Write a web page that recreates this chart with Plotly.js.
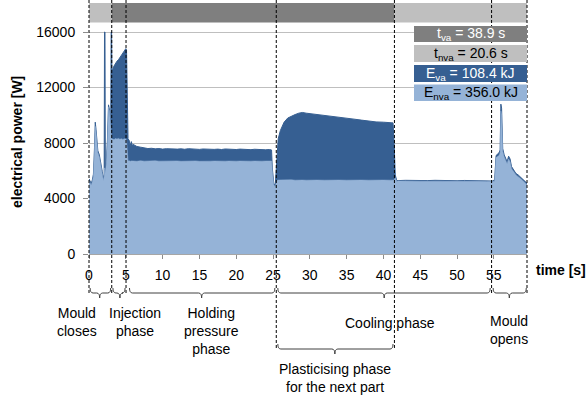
<!DOCTYPE html>
<html>
<head>
<meta charset="utf-8">
<script src="https://cdn.plot.ly/plotly-3.0.1.min.js"></script>
<style>html,body{margin:0;padding:0;background:#fff;}#chart{width:588px;height:396px;}</style>
</head>
<body>
<div id="chart"></div>
<script>
// ---- data ----
const TIME = [0.00,0.15,0.30,0.45,0.60,0.75,0.85,0.95,1.05,1.20,1.40,1.60,1.80,1.95,2.06,2.11,2.17,2.22,2.35,2.50,2.65,2.80,2.95,3.01,3.07,3.13,3.20,3.40,3.60,3.80,4.00,4.20,4.40,4.60,4.80,5.00,5.10,5.20,5.30,5.45,5.60,5.75,5.90,6.0,6.5,7.0,7.5,8.0,8.5,9.0,9.5,10.0,10.5,11.0,11.5,12.0,12.5,13.0,13.5,14.0,14.5,15.0,15.5,16.0,16.5,17.0,17.5,18.0,18.5,19.0,19.5,20.0,20.5,21.0,21.5,22.0,22.5,23.0,23.5,24.0,24.5,24.80,24.90,25.10,25.30,25.50,25.70,26.0,26.5,27.0,27.5,28.0,28.5,29.0,29.5,30.0,31.0,32.0,33.0,34.0,35.0,36.0,37.0,38.0,39.0,40.0,41.0,41.30,41.45,41.60,41.80,42.0,43.0,44.0,45.0,46.0,47.0,48.0,49.0,50.0,51.0,52.0,53.0,54.0,54.80,55.10,55.30,55.50,55.70,55.85,55.95,56.05,56.20,56.40,56.60,56.80,57.00,57.20,57.40,57.60,57.80,58.00,58.30,58.60,58.90,59.20,59.50];
const POWER_TOTAL = [5420,5220,5080,5330,5750,7700,9500,9000,8000,7450,7150,6650,5950,5450,5750,16000,16000,5950,6650,8150,10750,10350,9150,16000,16000,12000,13300,13550,13750,13900,14000,14150,14300,14450,14600,14800,14700,8450,8300,8200,7800,8100,7800,7900,7750,7700,7650,7600,7620,7580,7600,7560,7590,7570,7600,7560,7580,7550,7590,7560,7580,7540,7570,7550,7580,7540,7560,7530,7570,7540,7560,7530,7560,7540,7550,7520,7550,7520,7540,7510,7530,7500,6200,5100,4950,6500,8300,8900,9500,9800,9950,10050,10150,10200,10150,10120,10060,10000,9950,9860,9780,9720,9650,9560,9520,9500,9460,9450,8000,5700,5300,5290,5310,5290,5300,5290,5310,5290,5300,5280,5300,5280,5290,5270,5260,5350,7100,7200,7300,7500,10800,10500,7600,7150,6850,6650,7050,6850,6300,6100,5950,5800,5700,5550,5400,5250,5100];
const POWER_BASE = [5300,5100,4950,5200,5600,7500,9200,8800,7800,7300,7000,6500,5800,5300,5600,6200,6200,5800,6500,8000,10600,10200,9000,8300,8300,8300,8300,8250,8320,8280,8330,8270,8310,8260,8300,8280,8200,7000,6700,6720,6680,6710,6690,6700,6680,6720,6690,6710,6680,6720,6690,6700,6680,6720,6690,6710,6680,6700,6720,6690,6710,6680,6700,6720,6690,6700,6680,6710,6690,6700,6720,6690,6700,6680,6710,6690,6700,6720,6690,6700,6680,6700,6000,5000,4850,5300,5330,5340,5320,5330,5350,5320,5340,5330,5320,5340,5330,5320,5340,5330,5320,5340,5330,5320,5340,5330,5320,5330,5330,5500,5250,5260,5240,5260,5250,5240,5260,5250,5240,5250,5260,5240,5250,5230,5220,5250,6950,7000,7100,7300,10300,10000,7400,7000,6700,6500,6850,6650,6150,5950,5850,5700,5600,5450,5300,5150,5000];
const X_TICKS = [0,5,10,15,20,25,30,35,40,45,50,55];
const Y_TICKS = [0,4000,8000,12000,16000];
const T_END = 59.5;
const PHASE_BOUNDS = [0, 3.09, 5.03, 25.44, 41.49, 54.69, 59.5];
const PHASE_LINE_BOTTOM = [293, 293, 293, 349, 349, 293, 293];
const BAND = [[0, 3.09, 'nva'], [3.09, 41.49, 'va'], [41.49, 59.5, 'nva']];
const KPI_LABELS = ['t<sub>va</sub> = 38.9 s', 't<sub>nva</sub> = 20.6 s', 'E<sub>va</sub> = 108.4 kJ', 'E<sub>nva</sub> = 356.0 kJ'];
const PHASES = [
  {label: 'Mould<br>closes', x0: 0.15, x1: 2.95, xc: 1.45, row: 0},
  {label: 'Injection<br>phase', x0: 3.25, x1: 4.9, xc: 4.2, row: 0},
  {label: 'Holding<br>pressure<br>phase', x0: 5.5, x1: 25.25, xc: 15.3, row: 0},
  {label: 'Cooling phase', x0: 25.65, x1: 54.5, xc: 40.1, row: 0},
  {label: 'Mould<br>opens', x0: 54.9, x1: 59.4, xc: 57.1, row: 0},
  {label: 'Plasticising phase<br>for the next part', x0: 25.65, x1: 41.3, xc: 33.4, row: 1}
];

// ---- style / geometry ----
const DARK_BLUE = '#365F92', LIGHT_BLUE = '#95B3D7', DARK_GRAY = '#7F7F7F', LIGHT_GRAY = '#BFBFBF';
const FONT = 'Arial, "Liberation Sans", sans-serif';
const L = 89, R = 61, TOP = 22, B = 142, W = 588, H = 396;
const PW = W - L - R, PH = H - TOP - B;
const X = t => t / T_END;               // time -> paper x
const PX = px => (px - L) / PW;         // pixel x -> paper x
const PY = py => (H - B - py) / PH;     // pixel y -> paper y

const shapes = [];
const annotations = [];

// top band
BAND.forEach(b => shapes.push({type:'rect', xref:'paper', yref:'paper', x0:X(b[0]), x1:X(b[1]), y0:PY(22.5), y1:PY(3), fillcolor: b[2]==='va'?DARK_GRAY:LIGHT_GRAY, line:{width:0}, layer:'above'}));
// dashed phase lines
PHASE_BOUNDS.forEach((b,i) => shapes.push({type:'line', xref:'paper', yref:'paper', x0:X(b), x1:X(b), y0:PY(0), y1:PY(PHASE_LINE_BOTTOM[i]), line:{color:'#000', width:1, dash:'3px,2px'}, layer:'above'}));
// KPI boxes
const boxFill = [DARK_GRAY, LIGHT_GRAY, DARK_BLUE, LIGHT_BLUE];
const boxText = ['#fff', '#000', '#fff', '#000'];
const boxY = [[26,42],[45,62],[65,82],[84.5,101]];
KPI_LABELS.forEach((lab,i) => {
  shapes.push({type:'rect', xref:'paper', yref:'paper', x0:PX(414), x1:PX(527), y0:PY(boxY[i][1]), y1:PY(boxY[i][0]), fillcolor:boxFill[i], line:{width:0}, layer:'above'});
  annotations.push({xref:'paper', yref:'paper', x:PX(470.5), y:PY((boxY[i][0]+boxY[i][1])/2), text:lab, showarrow:false, xanchor:'center', yanchor:'middle', font:{family:FONT, size:14, color:boxText[i]}});
});
// brackets
const dx = 3 / PW;
PHASES.forEach(p => {
  const py = p.row === 0 ? 293 : 349;
  const y = PY(py), yUp = PY(py-5), yDn = PY(py+5);
  const a = X(p.x0), b = X(p.x1), c = X(p.xc);
  const path = `M ${a},${yUp} Q ${a},${y} ${a+dx},${y} L ${c-dx},${y} Q ${c},${y} ${c},${yDn} Q ${c},${y} ${c+dx},${y} L ${b-dx},${y} Q ${b},${y} ${b},${yUp}`;
  shapes.push({type:'path', xref:'paper', yref:'paper', path:path, line:{color:'#404040', width:1}, layer:'above'});
});
// bracket labels
const labelPos = [[77,322],[135,322],[211,331],[390,323],[509,330],[335,378]];
PHASES.forEach((p,i) => annotations.push({xref:'paper', yref:'paper', x:PX(labelPos[i][0]), y:PY(labelPos[i][1]), text:p.label, showarrow:false, xanchor:'center', yanchor:'middle', align:'center', font:{family:FONT, size:14, color:'#000'}}));
// axis titles
annotations.push({xref:'paper', yref:'paper', x:PX(561), y:PY(270), text:'<b>time [s]</b>', showarrow:false, xanchor:'center', yanchor:'middle', font:{family:FONT, size:14, color:'#000'}});
annotations.push({xref:'paper', yref:'paper', x:PX(17), y:PY(142), text:'<b>electrical power [W]</b>', textangle:-90, showarrow:false, xanchor:'center', yanchor:'middle', font:{family:FONT, size:14, color:'#000'}});

const traces = [
  {x: TIME, y: POWER_TOTAL, type:'scatter', mode:'lines', fill:'tozeroy', fillcolor:DARK_BLUE, line:{color:DARK_BLUE, width:1}, hoverinfo:'skip'},
  {x: TIME, y: POWER_BASE, type:'scatter', mode:'lines', fill:'tozeroy', fillcolor:LIGHT_BLUE, line:{color:LIGHT_BLUE, width:0.5}, hoverinfo:'skip'}
];

const layout = {
  width: W, height: H,
  margin: {l:L, r:R, t:TOP, b:B, pad:0},
  paper_bgcolor:'#fff', plot_bgcolor:'#fff',
  showlegend:false,
  font:{family:FONT, size:14, color:'#000'},
  xaxis:{range:[0,T_END], tickvals:X_TICKS, ticktext:X_TICKS.map(String), ticks:'outside', ticklen:4, tickcolor:'#8c8c8c', showline:true, linecolor:'#a6a6a6', linewidth:1, showgrid:false, zeroline:false, tickfont:{family:FONT, size:14, color:'#000'}, ticklabelstandoff:4, fixedrange:true},
  yaxis:{range:[0,16721], tickvals:Y_TICKS, ticktext:Y_TICKS.map(String), ticks:'outside', ticklen:5, tickcolor:'#8c8c8c', showline:false, showgrid:true, gridcolor:'#bfbfbf', gridwidth:1, zeroline:false, tickfont:{family:FONT, size:14, color:'#000'}, ticklabelstandoff:5, fixedrange:true},
  shapes: shapes,
  annotations: annotations
};

Plotly.newPlot('chart', traces, layout, {displayModeBar:false, staticPlot:true});
</script>
</body>
</html>
